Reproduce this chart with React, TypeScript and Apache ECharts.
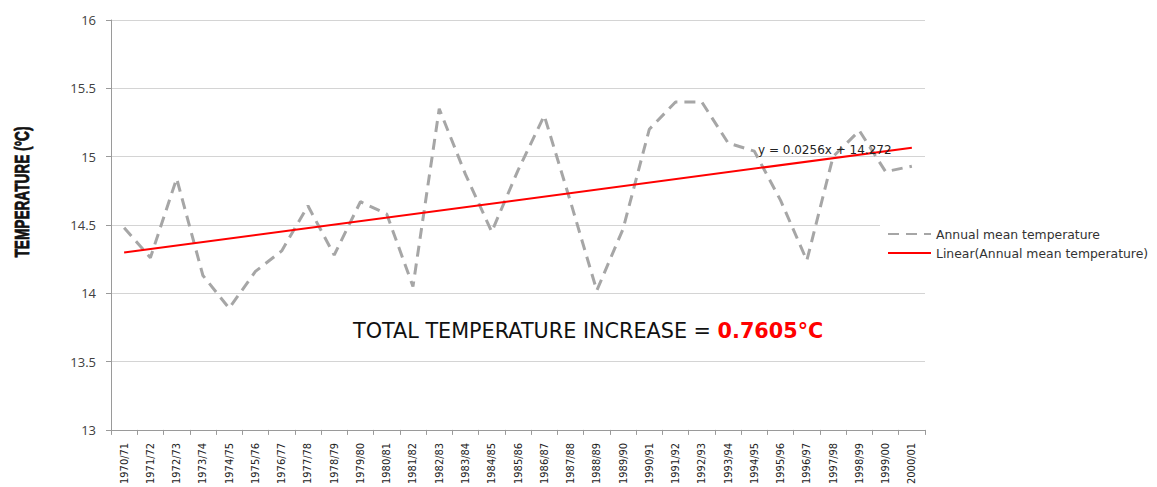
import React, { useEffect, useRef } from "react";
import * as echarts from "echarts";

const categories = [
  "1970/71", "1971/72", "1972/73", "1973/74", "1974/75", "1975/76", "1976/77", "1977/78",
  "1978/79", "1979/80", "1980/81", "1981/82", "1982/83", "1983/84", "1984/85", "1985/86",
  "1986/87", "1987/88", "1988/89", "1989/90", "1990/91", "1991/92", "1992/93", "1993/94",
  "1994/95", "1995/96", "1996/97", "1997/98", "1998/99", "1999/00", "2000/01",
];

const annualMean = [
  14.48, 14.26, 14.84, 14.13, 13.89, 14.16, 14.31, 14.64,
  14.28, 14.67, 14.58, 14.05, 15.35, 14.87, 14.45, 14.9,
  15.3, 14.67, 14.02, 14.47, 15.2, 15.4, 15.4, 15.1,
  15.04, 14.68, 14.24, 15.0, 15.19, 14.89, 14.93,
];

// Linear trendline endpoints (y = 0.0256x + 14.272, x = 1 and x = 31)
const trendStart = 14.2976;
const trendEnd = 15.0656;
const trendLabel = "y = 0.0256x + 14.272";

const yTicks = { min: 13, max: 16, interval: 0.5 };
const seriesNames = ["Annual mean temperature", "Linear(Annual mean temperature)"];
const yAxisTitle = "TEMPERATURE (°C)";
const noteText = "TOTAL TEMPERATURE INCREASE = ";
const noteValue = "0.7605°C";

export default function App() {
  const ref = useRef<HTMLDivElement>(null);
  useEffect(() => {
    if (!ref.current) return;
    const chart = echarts.init(ref.current, undefined, { renderer: "svg" });
    const trendData = categories.map((_, i) =>
      i === 0 ? trendStart : i === categories.length - 1 ? trendEnd : null
    );
    chart.setOption({
      animation: false,
      backgroundColor: "#ffffff",
      grid: { left: 111, right: 232, top: 20, bottom: 54, containLabel: false },
      xAxis: {
        type: "category",
        data: categories,
        boundaryGap: true,
        axisLine: { show: true, lineStyle: { color: "#9a9a9a", width: 1 } },
        axisTick: { show: true, length: 5, lineStyle: { color: "#9a9a9a" } },
        axisLabel: {
          rotate: 90,
          interval: 0,
          margin: 13,
          fontFamily: "Liberation Sans Narrow, DejaVu Sans Condensed, Roboto, sans-serif",
          fontSize: 11,
          color: "#222222",
        },
        splitLine: { show: false },
      },
      yAxis: {
        type: "value",
        min: yTicks.min,
        max: yTicks.max,
        interval: yTicks.interval,
        axisLine: { show: true, lineStyle: { color: "#9a9a9a", width: 1 } },
        axisTick: { show: true, length: 5, lineStyle: { color: "#9a9a9a" } },
        axisLabel: {
          margin: 15,
          fontFamily: "Open Sans, Liberation Sans, sans-serif",
          fontSize: 13,
          color: "#404040",
        },
        splitLine: { show: true, lineStyle: { color: "#d4d4d4", width: 1 } },
      },
      legend: {
        orient: "vertical",
        left: 880,
        top: 224,
        padding: [4, 0, 4, 7],
        itemWidth: 43,
        itemHeight: 10,
        itemGap: 7,
        backgroundColor: "#ffffff",
        itemStyle: { opacity: 0 },
        textStyle: {
          fontFamily: "DejaVu Sans, sans-serif",
          fontSize: 12.4,
          color: "#333333",
        },
        data: seriesNames,
      },
      series: [
        {
          name: seriesNames[0],
          type: "line",
          data: annualMean,
          symbol: "none",
          lineStyle: { color: "#a6a6a6", width: 3, type: [11, 7] },
          itemStyle: { color: "#a6a6a6" },
          z: 2,
        },
        {
          name: seriesNames[1],
          type: "line",
          data: trendData,
          connectNulls: true,
          symbol: "none",
          lineStyle: { color: "#ff0000", width: 2 },
          itemStyle: { color: "#ff0000" },
          z: 3,
        },
      ],
      graphic: [
        {
          type: "text",
          x: 22,
          y: 192,
          rotation: Math.PI / 2,
          scaleX: 0.65,
          style: {
            text: yAxisTitle,
            fontFamily: "Liberation Sans, sans-serif",
            fontWeight: "bold",
            fontSize: 21,
            fill: "#111111",
            stroke: "#111111",
            lineWidth: 0.8,
            align: "center",
            verticalAlign: "middle",
          },
        },
        {
          type: "text",
          x: 758,
          y: 150,
          style: {
            text: trendLabel,
            fontFamily: "DejaVu Sans, sans-serif",
            fontSize: 12,
            fill: "#222222",
            verticalAlign: "middle",
          },
          z: 10,
        },
        {
          type: "text",
          x: 353,
          y: 331,
          style: {
            text: `{a|${noteText}}{b|${noteValue}}`,
            verticalAlign: "middle",
            rich: {
              a: {
                fontFamily: "DejaVu Sans, sans-serif",
                fontSize: 20.75,
                fill: "#111111",
              },
              b: {
                fontFamily: "DejaVu Sans, sans-serif",
                fontSize: 20.75,
                fontWeight: "bold",
                fill: "#ff0000",
              },
            },
          },
          z: 10,
        },
      ],
    });
    return () => chart.dispose();
  }, []);
  return (
    <div
      ref={ref}
      style={{ position: "fixed", left: 0, top: 0, width: 1157, height: 487 }}
    />
  );
}
